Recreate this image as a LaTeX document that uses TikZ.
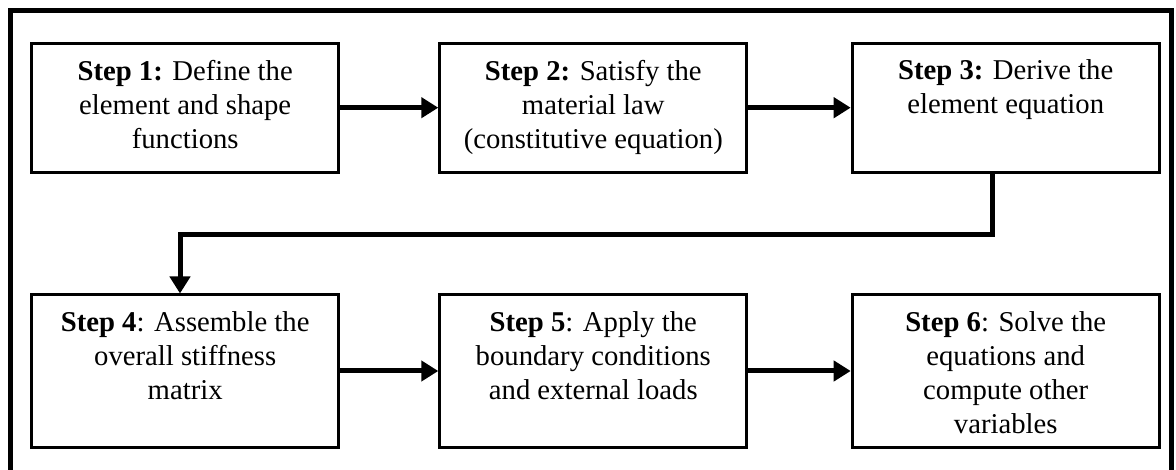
\documentclass[tikz,border=0pt]{standalone}
\usepackage{fontspec}
\setmainfont{Liberation Serif}
\usetikzlibrary{arrows.meta}
\begin{document}
\begin{tikzpicture}[x=1pt,y=-1pt,
  stepbox/.style={draw=black,line width=3pt,minimum width=307pt,inner sep=0pt},
  toprow/.style={stepbox,minimum height=129pt},
  botrow/.style={stepbox,minimum height=152pt},
  txt/.style={anchor=north,inner sep=0pt,align=center,font=\fontsize{28.7}{34}\selectfont},
  conn/.style={line width=5pt,-{Triangle[length=17pt,width=20pt]}}
]
\useasboundingbox (0,0) rectangle (1176,470);
\draw[line width=5pt] (10.5,470) -- (10.5,10.5) -- (1171.5,10.5) -- (1171.5,470);

\node[toprow] (b1) at (185.2,107.7) {};
\node[toprow] (b2) at (593.3,107.7) {};
\node[toprow] (b3) at (1005.7,107.7) {};
\node[botrow] (b4) at (185.2,371) {};
\node[botrow] (b5) at (593.3,371) {};
\node[botrow] (b6) at (1005.7,371) {};

\node[txt] (t1) at ([yshift=-18pt]b1.north) {\textbf{Step 1:} Define the\\element and shape\\functions};
\node[txt] (t2) at ([yshift=-18pt]b2.north) {\textbf{Step 2:} Satisfy the\\material law\\(constitutive equation)};
\node[txt] (t3) at ([yshift=-18pt]b3.north) {\textbf{Step 3:} Derive the\\element equation};
\node[txt] (t4) at ([yshift=-18pt]b4.north) {\textbf{Step 4}: Assemble the\\overall stiffness\\matrix};
\node[txt] (t5) at ([yshift=-18pt]b5.north) {\textbf{Step 5}: Apply the\\boundary conditions\\and external loads};
\node[txt] (t6) at ([yshift=-18pt]b6.north) {\textbf{Step 6}: Solve the\\equations and\\compute other\\variables};

\draw[conn] (b1.east) -- (b2.west);
\draw[conn] (b2.east) -- (b3.west);
\draw[conn] ([xshift=-13.7pt]b3.south) -- ++(0,61) -| ([xshift=-5.2pt]b4.north);
\draw[conn] (b4.east) -- (b5.west);
\draw[conn] (b5.east) -- (b6.west);
\end{tikzpicture}
\end{document}
